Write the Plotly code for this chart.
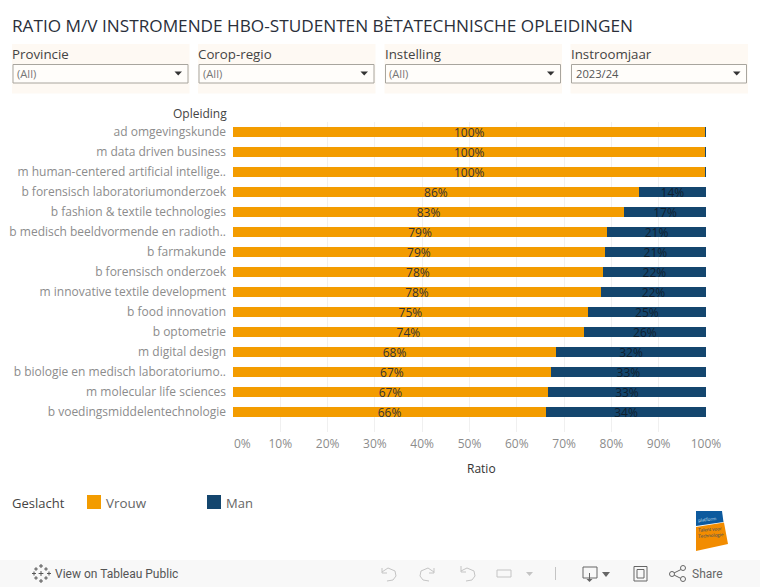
import plotly.graph_objects as go

TITLE = "RATIO M/V INSTROMENDE HBO-STUDENTEN BÈTATECHNISCHE OPLEIDINGEN"
categories = [
    "ad omgevingskunde", "m data driven business", "m human-centered artificial intellige..",
    "b forensisch laboratoriumonderzoek", "b fashion & textile technologies",
    "b medisch beeldvormende en radioth..", "b farmakunde", "b forensisch onderzoek",
    "m innovative textile development", "b food innovation", "b optometrie", "m digital design",
    "b biologie en medisch laboratoriumo..", "m molecular life sciences", "b voedingsmiddelentechnologie",
]
vrouw = [99.9, 99.9, 99.9, 85.8, 82.7, 79.1, 78.6, 78.2, 77.8, 75.0, 74.2, 68.3, 67.2, 66.6, 66.2]
man = [0.3, 0.3, 0.3, 14.2, 17.3, 20.9, 21.4, 21.8, 22.2, 25.0, 25.8, 31.7, 32.8, 33.4, 33.8]
xticks = [0, 10, 20, 30, 40, 50, 60, 70, 80, 90, 100]
filters = [("Provincie", "(All)"), ("Corop-regio", "(All)"), ("Instelling", "(All)"), ("Instroomjaar", "2023/24")]

ORANGE = "#f39c00"
NAVY = "#14466e"
FONT = "Open Sans"
W, H = 760, 587


def px(x):
    return x / W


def py(y):
    return 1 - y / H


fig = go.Figure()
fig.add_bar(
    y=categories, x=vrouw, name="Vrouw", orientation="h", marker=dict(color=ORANGE, line_width=0),
    text=[f"{round(v)}%" for v in vrouw], textposition="inside", insidetextanchor="middle",
    textangle=0, constraintext="none", textfont=dict(color="#333333", size=12, family=FONT),
)
fig.add_bar(
    y=categories, x=man, name="Man", orientation="h", cliponaxis=False,
    marker=dict(color=NAVY, line_width=0),
    text=[f"{round(m)}%" if m >= 1 else "" for m in man], textposition="inside", insidetextanchor="middle",
    textangle=0, constraintext="none", textfont=dict(color="#10202e", size=12, family=FONT),
)

shapes = []
annotations = []


def rect(x0, y0, x1, y1, fill, line=None, width=0):
    shapes.append(dict(type="rect", xref="paper", yref="paper", x0=px(x0), x1=px(x1), y0=py(y0), y1=py(y1),
                       fillcolor=fill, line=dict(color=line or fill, width=width), layer="below"))


def path(points, fill=None, line=None, width=1, close=False):
    d = "M" + " L".join(f"{px(x):.5f},{py(y):.5f}" for x, y in points) + (" Z" if close else "")
    shapes.append(dict(type="path", xref="paper", yref="paper", path=d, fillcolor=fill or "rgba(0,0,0,0)",
                       line=dict(color=line or "rgba(0,0,0,0)", width=width if line else 0)))


def text(x, y, s, size=12, color="#555555", anchor="left", family=FONT, **kw):
    annotations.append(dict(xref="paper", yref="paper", x=px(x), y=py(y), text=s, showarrow=False, xanchor=anchor,
                            yanchor="middle", font=dict(size=size, color=color, family=family),
                            borderpad=0, borderwidth=0, **kw))


text(12, 25, TITLE, size=17.2, color="#2a2f3a")

for (label, value), x0 in zip(filters, [12, 198, 384.5, 570.5]):
    rect(x0, 44, x0 + 177.5, 93.5, "#fef9f3")
    rect(x0 + 1, 64.5, x0 + 176, 83, "#fffdfa", "#a8a59e", 1)
    text(x0, 54, label, size=13.3, color="#444444")
    text(x0 + 5, 74, value, size=11.2, color="#777777" if value == "(All)" else "#555555")
    path([(x0 + 162.5, 71.5), (x0 + 170, 71.5), (x0 + 166.2, 75.5)], fill="#333333", close=True)

text(227, 113.5, "Opleiding", size=12, color="#444444", anchor="right")
text(481, 468.5, "Ratio", size=12, color="#333333", anchor="center")
text(242, 443.5, "0%", size=12, color="#8c8c8c", anchor="center")

text(12, 502.5, "Geslacht", size=13, color="#444444")
rect(87, 495, 101, 509, ORANGE)
text(106, 503.5, "Vrouw", size=13.4, color="#666666")
rect(207, 495, 221, 509, NAVY)
text(226, 503.5, "Man", size=13, color="#666666")

# Logo
path([(696, 511), (722, 511), (723.5, 522), (696, 526)], fill="#0d5a9e", close=True)
path([(696, 527), (724, 522.5), (728, 544), (696, 551)], fill="#f28c00", close=True)
text(698, 519, "platform", size=4.5, color="#cfe0f0", textangle=-6)
text(698, 529, "Talent voor", size=4.5, color="#14466e", textangle=-4)
text(698, 535, "Technologie", size=4.5, color="#14466e", textangle=-4)

# Toolbar
rect(0, 560, 760, 587, "#f8f8f8")
text(55, 573.5, "View on Tableau Public", size=12, color="#555555", family="Roboto")
text(692, 573.5, "Share", size=12, color="#666666", family="Roboto")
for cx, cy, r in [(41, 566, 1), (41, 581, 1), (34, 573.5, 1), (49, 573.5, 1), (41, 573.5, 1.4),
                  (36, 569, 0.8), (46, 569, 0.8), (36, 578, 0.8), (46, 578, 0.8)]:
    path([(cx - r - 1, cy), (cx + r + 1, cy)], line="#555555", width=1)
    path([(cx, cy - r - 1), (cx, cy + r + 1)], line="#555555", width=1)
G = "#c4c4c4"
path([(382, 568), (382, 573), (387, 573)], line=G)
path([(382, 572), (388, 568), (395, 571), (396, 576), (393, 580), (387, 581)], line=G)
path([(434, 568), (434, 573), (429, 573)], line=G)
path([(434, 572), (428, 568), (421, 571), (420, 576), (423, 580), (429, 581)], line=G)
path([(461, 566), (461, 572), (466, 572)], line=G)
path([(461, 571), (467, 568), (474, 571), (475, 576), (472, 580), (466, 581)], line=G)
path([(497, 570), (511, 570), (511, 577), (497, 577), (497, 570)], line=G)
path([(526, 572), (533, 572), (529.5, 576)], fill=G, close=True)
path([(555.5, 567), (555.5, 580)], line=G)
D = "#666666"
path([(597, 578), (583, 578), (583, 567), (597, 567), (597, 578)], line=D)
path([(589.5, 573), (589.5, 581)], line=D)
path([(586.5, 579), (592.5, 579), (589.5, 582)], fill=D, close=True)
path([(602, 572), (610, 572), (606, 577)], fill=D, close=True)
path([(634, 566.5), (647, 566.5), (647, 581), (634, 581), (634, 566.5)], line=D)
rect(637, 569.5, 644, 578, "#f8f8f8", D, 1)
path([(672, 574), (682, 569)], line=D)
path([(672, 574), (682, 579)], line=D)
for cx, cy in [(672, 574), (683, 568), (683, 579)]:
    shapes.append(dict(type="circle", xref="paper", yref="paper", x0=px(cx - 2.5), x1=px(cx + 2.5),
                       y0=py(cy + 2.5), y1=py(cy - 2.5), fillcolor="#f8f8f8", line=dict(color=D, width=1)))

fig.update_layout(
    width=W, height=H, margin=dict(l=0, r=0, t=0, b=0, autoexpand=False), barmode="stack", bargap=0.5,
    plot_bgcolor="white", paper_bgcolor="white", showlegend=False, font=dict(family=FONT),
    shapes=shapes, annotations=annotations,
    xaxis=dict(domain=[px(233), px(706)], range=[0, 100], tickmode="array", tickvals=xticks,
               ticktext=["" if t == 0 else f"{t}%" for t in xticks], showgrid=True, gridcolor="#f0f0f0", gridwidth=1,
               zeroline=False, showline=False, ticks="", tickfont=dict(size=12, color="#8c8c8c"), ticklabelstandoff=3),
    yaxis=dict(domain=[py(432), py(122)], range=[15, -0.5], categoryorder="array", categoryarray=categories,
               anchor="x", showgrid=False, zeroline=False, showline=False, ticks="", ticklabelstandoff=6,
               tickfont=dict(size=12, color="#8c8c8c")),
)
fig.write_html("out.html", config=dict(displayModeBar=False), post_script="document.body.style.margin='0';")
